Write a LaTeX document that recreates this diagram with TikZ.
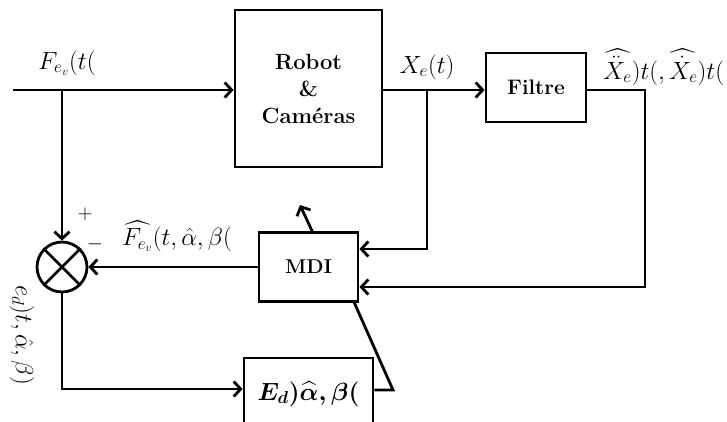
\documentclass[tikz,border=0pt]{standalone}
\usepackage{amsmath}
\usepackage{fontspec}
\usetikzlibrary{arrows.meta}
\begin{document}
\begin{tikzpicture}[x=1pt,y=-1pt,
  conn/.style={line width=2.8pt},
  arr/.style={conn,-{Straight Barb[length=7pt,width=15pt,line width=2.8pt]}},
  blk/.style={draw,line width=2.8pt,rectangle,inner sep=0pt,font=\fontsize{22}{27}\selectfont\bfseries,align=center},
  mblk/.style={draw,line width=2.8pt,rectangle,inner sep=0pt,font=\fontsize{24}{28}\selectfont},
  lbl/.style={font=\fontsize{24}{28}\selectfont,inner sep=0pt},
  sml/.style={font=\fontsize{21}{24}\selectfont,inner sep=0pt}]
\useasboundingbox (0,0) rectangle (727,421);
\clip (0,0) rectangle (727,421);
% blocks
\node[blk,minimum width=147pt,minimum height=157pt] (robot) at (308.5,88.5) {Robot\\\&\\Caméras};
\node[blk,minimum width=100pt,minimum height=69pt,font=\fontsize{21}{25}\selectfont\bfseries] (filtre) at (536,87.5) {Filtre};
\node[blk,minimum width=99pt,minimum height=69pt,font=\fontsize{20}{24}\selectfont\bfseries] (mdi) at (308.5,267) {MDI};
\node[mblk,minimum width=129pt,minimum height=72pt] (ed) at (308.5,394) {{$\boldsymbol{E_d)\widehat{\alpha},\beta(}$}};
\node[draw,circle,line width=2.8pt,minimum size=50pt,inner sep=0pt] (sum) at (62,267) {};
\draw[line width=2.8pt] (sum.north west) -- (sum.south east) (sum.north east) -- (sum.south west);
% coordinates
\coordinate (in) at (13,90);
\coordinate (j1) at (62,90);
\coordinate (j2) at (427,90);
\coordinate (c1) at (427,249);
\coordinate (f1) at (645,90);
\coordinate (f2) at (645,287);
\coordinate (m1) at (354,302);
\coordinate (m2) at (393,390);
\coordinate (up) at (300,205);
\coordinate (mt) at (313,233);
\coordinate (s1) at (62,389);
% connectors
\draw[arr] (in) -- (robot.west |- in);
\draw[arr] (j1) -- (sum.north);
\draw[arr] (robot.east |- in) -- (filtre.west |- in);
\draw[arr] (j2) -- (c1) -- (mdi.east |- c1);
\draw[arr] (filtre.east |- in) -- (f1) -- (f2) -- (mdi.east |- f2);
\draw[arr] (mdi.west) -- (sum.east);
\draw[arr] (mt) -- (up);
\draw[conn] (m1) -- (m2) -- (ed.east |- m2);
\draw[arr] (sum.south) -- (s1) -- (ed.west |- s1);
% labels
\node[lbl] (lf) at (67,63) {{$F_{e_v}(t($}};
\node[lbl] (lx) at (427,67) {{$X_e(t)$}};
\node[lbl,anchor=west] (lxx) at (603,67) {{$\widehat{\ddot{X}_e})t(,\widehat{\dot{X}_e})t($}};
\node[sml] (plus) at (85,214) {$+$};
\node[sml] (minus) at (95,244) {$-$};
\node[lbl] (lfh) at (177,236) {{$\widehat{F_{e_v}}(t,\hat{\alpha},\beta($}};
\node[lbl,rotate=-90] (le) at (22,335) {{$e_d)t,\hat{\alpha},\beta)$}};
\end{tikzpicture}
\end{document}
